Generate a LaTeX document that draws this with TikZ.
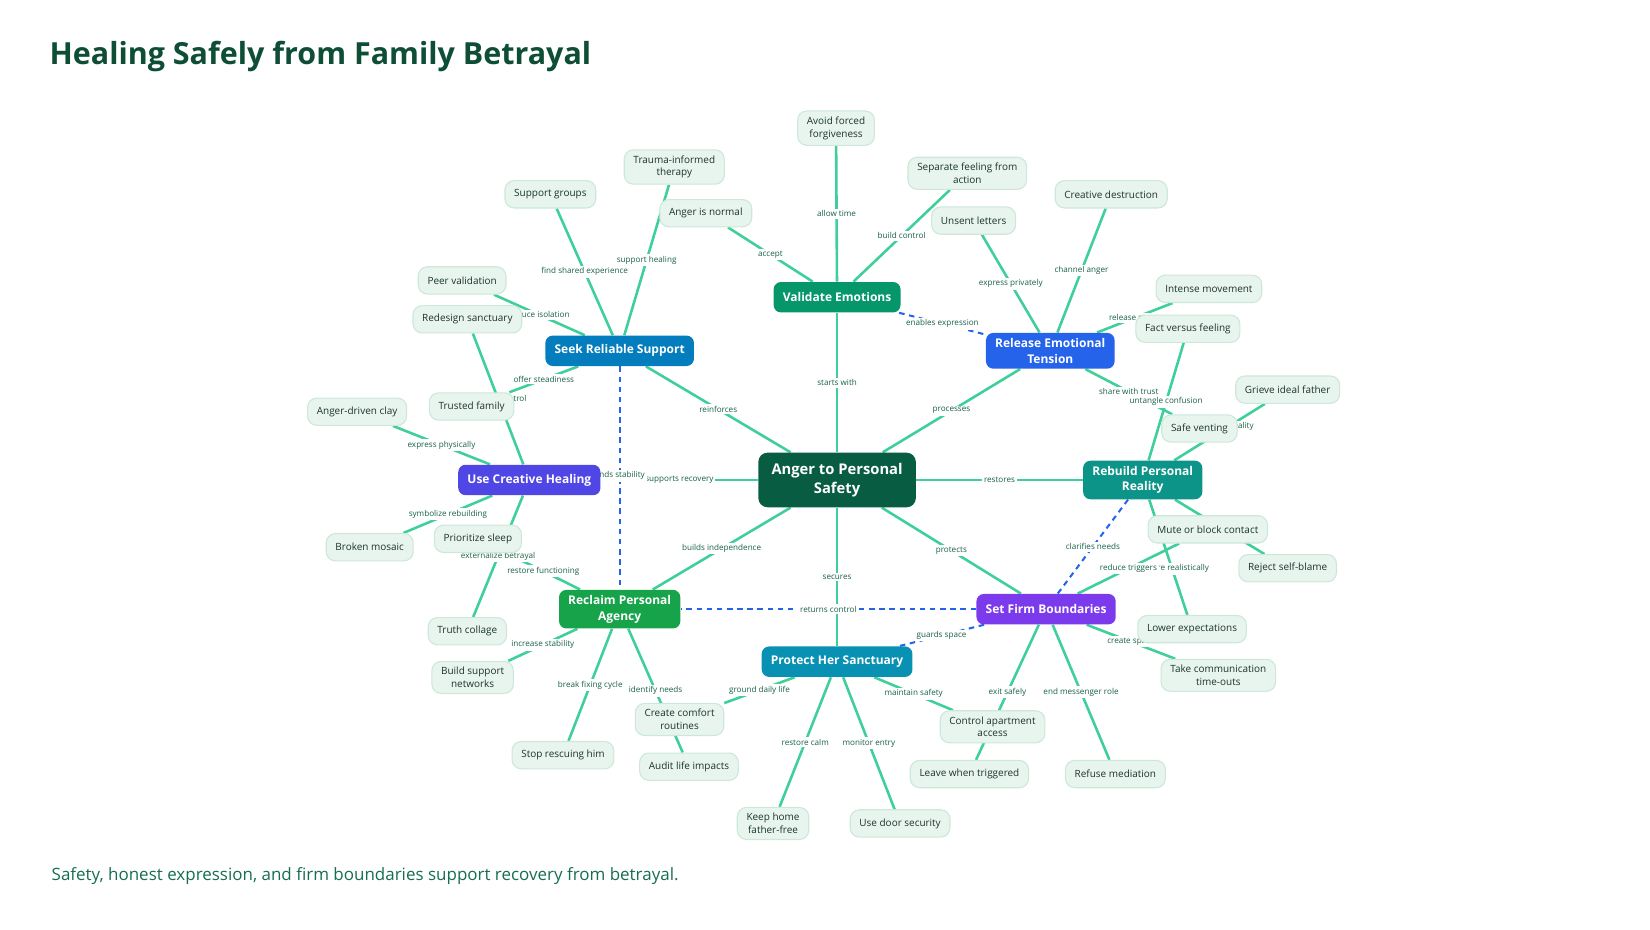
\documentclass[tikz,border=0pt]{standalone}
\usepackage{fontspec}
\setmainfont{Open Sans}
\usetikzlibrary{positioning}
\definecolor{titlegreen}{RGB}{14,77,54}
\definecolor{footgreen}{RGB}{22,110,80}
\definecolor{edgegreen}{RGB}{62,207,154}
\definecolor{leaffill}{RGB}{232,245,238}
\definecolor{leafdraw}{RGB}{204,232,216}
\definecolor{leaftext}{RGB}{28,52,42}
\definecolor{lbltext}{RGB}{24,96,70}
\definecolor{crossblue}{RGB}{37,99,235}
\definecolor{corecol}{RGB}{8,92,66}
\definecolor{vecol}{RGB}{5,150,105}
\definecolor{retcol}{RGB}{37,99,235}
\definecolor{rprcol}{RGB}{13,148,136}
\definecolor{sfbcol}{RGB}{124,58,237}
\definecolor{phscol}{RGB}{8,145,178}
\definecolor{rpacol}{RGB}{22,163,74}
\definecolor{uchcol}{RGB}{79,70,229}
\definecolor{srscol}{RGB}{3,125,190}
\pgfdeclarelayer{edges}
\pgfsetlayers{edges,main}

\begin{document}
\begin{tikzpicture}[x=0.02cm,y=-0.02cm,
  leaf/.style={rectangle,rounded corners=5pt,draw=leafdraw,line width=0.6pt,fill=leaffill,text=leaftext,font=\fontsize{5.4}{6.8}\selectfont,align=center,inner xsep=5pt,inner ysep=3.2pt,minimum height=0.52cm},
  hub/.style={rectangle,rounded corners=4pt,fill=#1,text=white,font=\fontsize{6.5}{8.4}\selectfont\bfseries,align=center,inner xsep=5pt,inner ysep=3pt,minimum height=0.58cm},
  lbl/.style={fill=white,text=lbltext,font=\fontsize{4.4}{5.4}\selectfont,inner sep=1pt},
  link/.style={draw=edgegreen,line width=1.4pt},
  cross/.style={draw=crossblue,line width=1.1pt,dash pattern=on 3pt off 2.5pt}]
  \useasboundingbox (0,0) rectangle (1571,885);

  \node[anchor=west,text=titlegreen,font=\fontsize{16.5}{19}\selectfont\bfseries] (title) at (41,54) {Healing Safely from Family Betrayal};
  \node[anchor=west,text=footgreen,font=\fontsize{9.2}{11}\selectfont] (foot) at (43,834) {Safety, honest expression, and firm boundaries support recovery from betrayal.};

  \node[hub=corecol,font=\fontsize{8}{10}\selectfont\bfseries,minimum width=3cm,minimum height=1.04cm,rounded corners=5pt] (core) at (797,457) {Anger to Personal\\Safety};
  \node[hub=vecol] (ve) at (797,283) {Validate Emotions};
  \node[hub=retcol] (ret) at (1000,334) {Release Emotional\\Tension};
  \node[hub=rprcol] (rpr) at (1088,457) {Rebuild Personal\\Reality};
  \node[hub=sfbcol] (sfb) at (996,580) {Set Firm Boundaries};
  \node[hub=phscol] (phs) at (797,630) {Protect Her Sanctuary};
  \node[hub=rpacol] (rpa) at (590,580) {Reclaim Personal\\Agency};
  \node[hub=uchcol] (uch) at (504,457) {Use Creative Healing};
  \node[hub=srscol] (srs) at (590,334) {Seek Reliable Support};

  \node[leaf] (avoid) at (796,122) {Avoid forced\\forgiveness};
  \node[leaf] (angnorm) at (672,203) {Anger is normal};
  \node[leaf] (sepfeel) at (921,165) {Separate feeling from\\action};
  \node[leaf] (unsent) at (927,210) {Unsent letters};
  \node[leaf] (credes) at (1058,185) {Creative destruction};
  \node[leaf] (intense) at (1151,275) {Intense movement};
  \node[leaf] (fact) at (1131,313) {Fact versus feeling};
  \node[leaf] (safevent) at (1142,408) {Safe venting};
  \node[leaf] (grieve) at (1226,371) {Grieve ideal father};
  \node[leaf] (mute) at (1150,504) {Mute or block contact};
  \node[leaf] (reject) at (1226,541) {Reject self-blame};
  \node[leaf] (lower) at (1135,599) {Lower expectations};
  \node[leaf] (timeout) at (1160,643) {Take communication\\time-outs};
  \node[leaf] (refuse) at (1062,737) {Refuse mediation};
  \node[leaf] (leave) at (923,737) {Leave when triggered};
  \node[leaf] (control) at (945,692) {Control apartment\\access};
  \node[leaf] (usedoor) at (857,784) {Use door security};
  \node[leaf] (keephome) at (736,784) {Keep home\\father-free};
  \node[leaf] (comfort) at (647,685) {Create comfort\\routines};
  \node[leaf] (audit) at (656,730) {Audit life impacts};
  \node[leaf] (stop) at (536,719) {Stop rescuing him};
  \node[leaf] (buildnet) at (450,645) {Build support\\networks};
  \node[leaf] (truth) at (445,601) {Truth collage};
  \node[leaf] (sleep) at (455,513) {Prioritize sleep};
  \node[leaf] (mosaic) at (352,521) {Broken mosaic};
  \node[leaf] (clay) at (340,392) {Anger-driven clay};
  \node[leaf] (trusted) at (449,387) {Trusted family};
  \node[leaf] (redesign) at (445,304) {Redesign sanctuary};
  \node[leaf] (peer) at (440,267) {Peer validation};
  \node[leaf] (supgroups) at (524,185) {Support groups};
  \node[leaf] (trauma) at (642,159) {Trauma-informed\\therapy};

  \begin{pgfonlayer}{edges}
    \draw[link] (core) -- node[lbl]{starts with} (ve);
    \draw[link] (core) -- node[lbl]{processes} (ret);
    \draw[link] (core) -- node[lbl]{restores} (rpr);
    \draw[link] (core) -- node[lbl]{protects} (sfb);
    \draw[link] (core) -- node[lbl]{secures} (phs);
    \draw[link] (core) -- node[lbl]{builds independence} (rpa);
    \draw[link] (core) -- node[lbl]{supports recovery} (uch);
    \draw[link] (core) -- node[lbl]{reinforces} (srs);

    \draw[link] (ve) -- node[lbl]{allow time} (avoid);
    \draw[link] (ve) -- node[lbl]{accept} (angnorm);
    \draw[link] (ve) -- node[lbl]{build control} (sepfeel);
    \draw[link] (ret) -- node[lbl]{express privately} (unsent);
    \draw[link] (ret) -- node[lbl]{channel anger} (credes);
    \draw[link] (ret) -- node[lbl]{release stress} (intense);
    \draw[link] (ret) -- node[lbl]{share with trust} (safevent);
    \draw[link] (rpr) -- node[lbl]{untangle confusion} (fact);
    \draw[link] (rpr) -- node[lbl,pos=0.6]{accept reality} (grieve);
    \draw[link] (rpr) -- (reject);
    \draw[link] (rpr) -- node[lbl,pos=0.6]{prepare realistically} (lower);
    \draw[link] (sfb) -- node[lbl]{reduce triggers} (mute);
    \draw[link] (sfb) -- node[lbl]{create space} (timeout);
    \draw[link] (sfb) -- node[lbl]{end messenger role} (refuse);
    \draw[link] (sfb) -- node[lbl]{exit safely} (leave);
    \draw[link] (phs) -- node[lbl]{maintain safety} (control);
    \draw[link] (phs) -- node[lbl]{monitor entry} (usedoor);
    \draw[link] (phs) -- node[lbl]{restore calm} (keephome);
    \draw[link] (phs) -- node[lbl]{ground daily life} (comfort);
    \draw[link] (rpa) -- node[lbl]{identify needs} (audit);
    \draw[link] (rpa) -- node[lbl]{break fixing cycle} (stop);
    \draw[link] (rpa) -- node[lbl]{increase stability} (buildnet);
    \draw[link] (rpa) -- node[lbl]{restore functioning} (sleep);
    \draw[link] (uch) -- node[lbl]{externalize betrayal} (truth);
    \draw[link] (uch) -- node[lbl]{symbolize rebuilding} (mosaic);
    \draw[link] (uch) -- node[lbl]{express physically} (clay);
    \draw[link] (uch) -- node[lbl]{reclaim control} (redesign);
    \draw[link] (srs) -- node[lbl]{offer steadiness} (trusted);
    \draw[link] (srs) -- node[lbl]{reduce isolation} (peer);
    \draw[link] (srs) -- node[lbl]{find shared experience} (supgroups);
    \draw[link] (srs) -- node[lbl]{support healing} (trauma);

    \draw[cross] (ve) -- node[lbl]{enables expression} (ret);
    \draw[cross] (rpr) -- node[lbl]{clarifies needs} (sfb);
    \draw[cross] (sfb) -- node[lbl]{returns control} (rpa);
    \draw[cross] (sfb) -- node[lbl]{guards space} (phs);
    \draw[cross] (srs) -- node[lbl,pos=0.49]{finds stability} (rpa);
  \end{pgfonlayer}
\end{tikzpicture}
\end{document}
